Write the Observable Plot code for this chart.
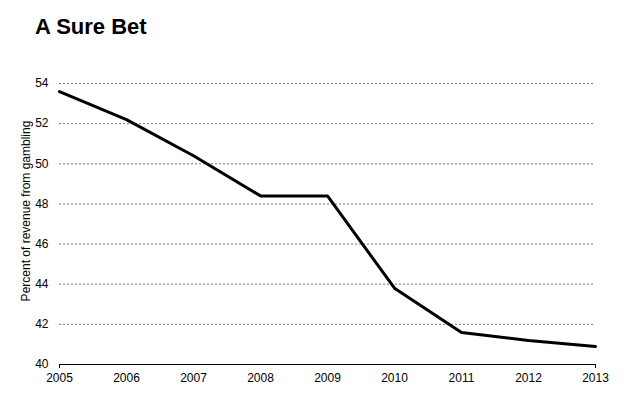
<!DOCTYPE html>
<html>
<head>
<meta charset="utf-8">
<script src="https://cdn.jsdelivr.net/npm/d3@7"></script>
<script src="https://cdn.jsdelivr.net/npm/@observablehq/plot@0.6"></script>
<style>
  body { margin: 0; background: #fff; }
  #wrap { position: relative; width: 630px; height: 400px; font-family: "Liberation Sans", Arial, sans-serif; }
  #title { position: absolute; left: 35px; top: 16px; font-size: 22px; font-weight: bold; line-height: 1; color: #000; }
</style>
</head>
<body>
<div id="wrap"><div id="title">A Sure Bet</div></div>
<script>
const years = [2005, 2006, 2007, 2008, 2009, 2010, 2011, 2012, 2013];
const percent = [53.6, 52.2, 50.4, 48.4, 48.4, 43.8, 41.6, 41.2, 40.9];
const yTicks = [40, 42, 44, 46, 48, 50, 52, 54];
const gridTicks = [42, 44, 46, 48, 50, 52, 54];
const yLabel = "Percent of revenue from gambling";
const data = years.map((y, i) => ({year: y, value: percent[i]}));

const chart = Plot.plot({
  width: 630,
  height: 400,
  marginTop: 83,
  marginBottom: 36,
  marginLeft: 59,
  marginRight: 35,
  style: {fontFamily: "Liberation Sans, Arial, sans-serif", fontSize: "12px", color: "#000", background: "transparent"},
  x: {domain: [2005, 2013]},
  y: {domain: [40, 54]},
  marks: [
    Plot.gridY(gridTicks, {stroke: "#777", strokeOpacity: 1, strokeDasharray: "2,2", strokeWidth: 1}),
    Plot.ruleY([40], {stroke: "#000", strokeWidth: 1}),
    Plot.axisY(yTicks, {tickSize: 0, tickPadding: 11, fontSize: 12, label: null, fill: "#000"}),
    Plot.text([yLabel], {frameAnchor: "left", dx: -33, dy: -13, rotate: -90, text: d => d, textAnchor: "middle", lineAnchor: "middle", fontSize: 12, fill: "#000"}),
    Plot.axisX([2005, 2013], {tickSize: 4, text: () => "", label: null, stroke: "#000"}),
    Plot.axisX(years, {tickSize: 0, tickPadding: 9, fontSize: 12, tickFormat: d => String(d), label: null, fill: "#000"}),
    Plot.line(data, {x: "year", y: "value", stroke: "#000", strokeWidth: 3, strokeLinejoin: "miter"})
  ]
});
chart.style.position = "absolute";
chart.style.left = "0";
chart.style.top = "0";
document.getElementById("wrap").appendChild(chart);
</script>
</body>
</html>
